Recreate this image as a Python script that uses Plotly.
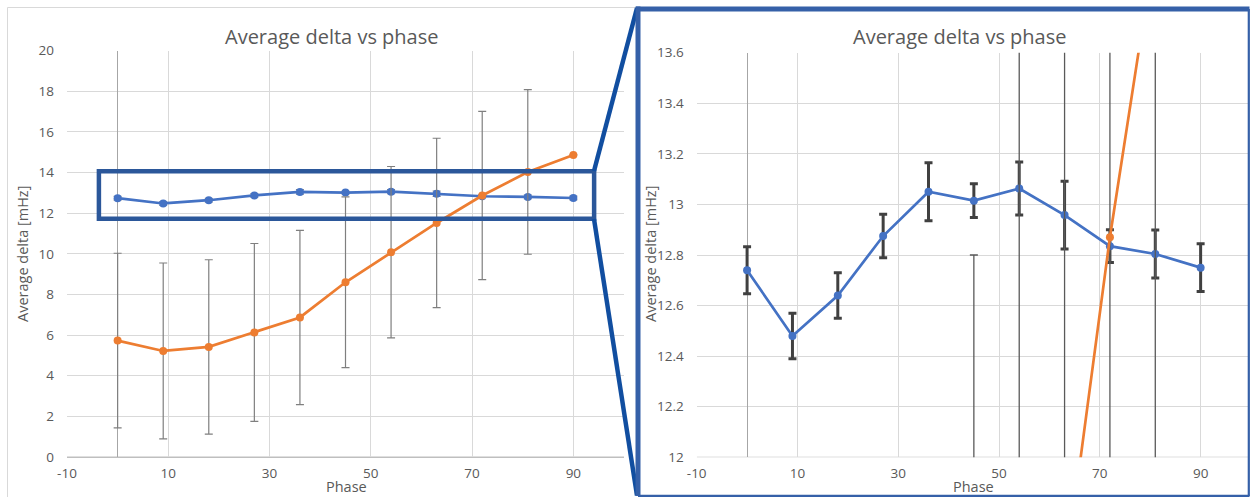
import plotly.graph_objects as go

# Phase steps and measured averages
phase = [0, 9, 18, 27, 36, 45, 54, 63, 72, 81, 90]

blue_delta = [12.74, 12.48, 12.64, 12.875, 13.05, 13.015, 13.063, 12.958, 12.835, 12.804, 12.75]
blue_err = [0.093, 0.09, 0.09, 0.086, 0.115, 0.067, 0.105, 0.134, 0.065, 0.095, 0.094]

orange_delta = [5.73, 5.22, 5.42, 6.13, 6.87, 8.6, 10.08, 11.52, 12.87, 14.03, 14.87]
orange_err = [4.3, 4.33, 4.29, 4.38, 4.29, 4.2, 4.22, 4.17, 4.14, 4.05, None]

x_ticks = [-10, 10, 30, 50, 70, 90]
x_tick_labels = ["-10", "10", "30", "50", "70", "90"]
left_y_ticks = [0, 2, 4, 6, 8, 10, 12, 14, 16, 18, 20]
right_y_ticks = [12, 12.2, 12.4, 12.6, 12.8, 13, 13.2, 13.4, 13.6]

W, H = 1250, 497
BLUE = "#4472C4"
ORANGE = "#ED7D31"
TEXT = "#595959"
GRID = "#D9D9D9"
FONT = "Open Sans"


def px(x):
    """pixel x -> paper fraction"""
    return x / W


def py(y):
    """pixel y (from top) -> paper fraction"""
    return 1 - y / H


fig = go.Figure()

for xa, ya, bw, ow, bc, oc in [("x", "y", 1, 1.2, "#7F7F7F", "#7F7F7F"),
                               ("x2", "y2", 3, 1.3, "#404040", "#595959")]:
    fig.add_trace(go.Scatter(
        x=phase, y=blue_delta, xaxis=xa, yaxis=ya, mode="lines+markers",
        line=dict(color=BLUE, width=2.7), marker=dict(color=BLUE, size=8),
        error_y=dict(type="data", array=blue_err, visible=True, color=bc,
                     thickness=bw, width=4),
        showlegend=False, cliponaxis=True))
    fig.add_trace(go.Scatter(
        x=phase, y=orange_delta, xaxis=xa, yaxis=ya, mode="lines+markers",
        line=dict(color=ORANGE, width=2.7), marker=dict(color=ORANGE, size=8),
        error_y=dict(type="data", array=orange_err, visible=True, color=oc,
                     thickness=ow, width=4),
        showlegend=False, cliponaxis=True))

axis_common = dict(showgrid=True, gridcolor=GRID, gridwidth=1, ticks="",
                   tickfont=dict(family=FONT, size=13.5, color=TEXT),
                   showline=False, fixedrange=True, automargin=False)

fig.update_layout(
    width=W, height=H,
    margin=dict(l=0, r=0, t=0, b=0, autoexpand=False),
    paper_bgcolor="white", plot_bgcolor="white",
    xaxis=dict(domain=[px(67), px(624)], range=[-10, 100], tickvals=x_ticks,
               ticktext=x_tick_labels,
               zeroline=True, zerolinecolor="#A6A6A6", zerolinewidth=1.2,
               ticklabelstandoff=6, anchor="y", **axis_common),
    yaxis=dict(domain=[py(457), py(50.7)], range=[0, 20], tickvals=left_y_ticks,
               zeroline=True, zerolinecolor="#BFBFBF", zerolinewidth=1.2,
               ticklabelstandoff=12, anchor="x", **axis_common),
    xaxis2=dict(domain=[px(696.7), px(1248)], range=[-10, 99.4], tickvals=x_ticks,
                ticktext=x_tick_labels,
                zeroline=True, zerolinecolor="#A6A6A6", zerolinewidth=1.2,
                ticklabelstandoff=6, anchor="y2", **axis_common),
    yaxis2=dict(domain=[py(457.3), py(52.7)], range=[12, 13.6], tickvals=right_y_ticks,
                zeroline=False, ticklabelstandoff=12, anchor="x2", **axis_common),
)

# bottom axis lines
fig.add_shape(type="line", xref="x", yref="y", x0=-10, x1=100, y0=0, y1=0,
              line=dict(color="#BFBFBF", width=1.2), layer="below")
fig.add_shape(type="line", xref="x2", yref="y2", x0=-10, x1=99.4, y0=12, y1=12,
              line=dict(color="#BFBFBF", width=1.2), layer="below")

annotations = []
for cx in (332, 960):
    annotations.append(dict(text="Average delta vs phase", x=px(cx), y=py(36),
                            xref="paper", yref="paper", showarrow=False,
                            xanchor="center", yanchor="middle",
                            font=dict(family=FONT, size=20, color=TEXT)))
for cx in (22, 650):
    annotations.append(dict(text="Average delta [mHz]", x=px(cx), y=py(254),
                            xref="paper", yref="paper", showarrow=False, textangle=-90,
                            xanchor="center", yanchor="middle",
                            font=dict(family=FONT, size=14.5, color=TEXT)))
for cx in (346, 973):
    annotations.append(dict(text="Phase", x=px(cx), y=py(486),
                            xref="paper", yref="paper", showarrow=False,
                            xanchor="center", yanchor="middle",
                            font=dict(family=FONT, size=14.5, color=TEXT)))
fig.update_layout(annotations=annotations)

# outer frame of the full-range chart (left and top edges; the rest runs off the page)
fig.add_shape(type="line", xref="paper", yref="paper",
              x0=px(7.5), x1=px(7.5), y0=0, y1=py(7.5),
              line=dict(color="#D9D9D9", width=1))
fig.add_shape(type="line", xref="paper", yref="paper",
              x0=px(7.5), x1=px(640), y0=py(7.5), y1=py(7.5),
              line=dict(color="#D9D9D9", width=1))

# highlight box around the blue series
fig.add_shape(type="rect", xref="x", yref="y", x0=-3.7, x1=94.1, y0=11.73, y1=14.07,
              line=dict(color="#2B579A", width=4.5))

# connectors to the zoomed view
fig.add_shape(type="line", xref="paper", yref="paper",
              x0=px(594), y0=py(171), x1=px(637), y1=py(8),
              line=dict(color="#114EA0", width=4.5))
fig.add_shape(type="line", xref="paper", yref="paper",
              x0=px(594), y0=py(219), x1=px(637), y1=py(495.5),
              line=dict(color="#114EA0", width=4.5))

# frame of the zoomed chart: heavy top/left edges, thin right/bottom edges
FRAME = "#3560A8"
fig.add_shape(type="line", xref="paper", yref="paper",
              x0=px(638), x1=px(638), y0=py(496), y1=py(6.5),
              line=dict(color=FRAME, width=5))
fig.add_shape(type="line", xref="paper", yref="paper",
              x0=px(636), x1=px(1249.5), y0=py(9), y1=py(9),
              line=dict(color=FRAME, width=5))
fig.add_shape(type="line", xref="paper", yref="paper",
              x0=px(1248.8), x1=px(1248.8), y0=py(496), y1=py(9),
              line=dict(color=FRAME, width=2.2))
fig.add_shape(type="line", xref="paper", yref="paper",
              x0=px(638), x1=px(1249.5), y0=py(495.8), y1=py(495.8),
              line=dict(color=FRAME, width=2.2))

fig.write_html("out.html")
